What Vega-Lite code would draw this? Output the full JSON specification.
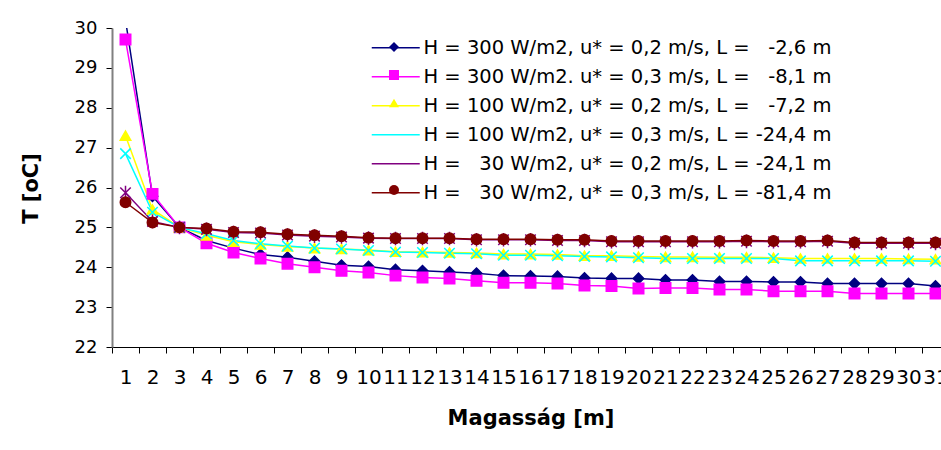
{
  "$schema": "https://vega.github.io/schema/vega-lite/v6.json",
  "autosize": "none",
  "width": 837,
  "height": 319,
  "padding": {"left": 112, "top": 28, "right": 0, "bottom": 103},
  "background": "white",
  "config": {
    "view": {"stroke": null},
    "font": "DejaVu Sans",
    "axis": {"grid": false, "labelColor": "black", "titleColor": "black", "titleFont": "DejaVu Sans", "labelFont": "DejaVu Sans"},
    "legend": {"labelFont": "DejaVu Sans", "labelColor": "black", "labelLimit": 700, "padding": 0}
  },
  "datasets": {
    "temps": [
      {"h":1,"s":"H = 300 W/m2, u* = 0,2 m/s, L =\u00a0\u00a0\u00a0-2,6 m","T":30.2},
      {"h":2,"s":"H = 300 W/m2, u* = 0,2 m/s, L =\u00a0\u00a0\u00a0-2,6 m","T":25.78},
      {"h":3,"s":"H = 300 W/m2, u* = 0,2 m/s, L =\u00a0\u00a0\u00a0-2,6 m","T":25.0},
      {"h":4,"s":"H = 300 W/m2, u* = 0,2 m/s, L =\u00a0\u00a0\u00a0-2,6 m","T":24.67},
      {"h":5,"s":"H = 300 W/m2, u* = 0,2 m/s, L =\u00a0\u00a0\u00a0-2,6 m","T":24.48},
      {"h":6,"s":"H = 300 W/m2, u* = 0,2 m/s, L =\u00a0\u00a0\u00a0-2,6 m","T":24.32},
      {"h":7,"s":"H = 300 W/m2, u* = 0,2 m/s, L =\u00a0\u00a0\u00a0-2,6 m","T":24.25},
      {"h":8,"s":"H = 300 W/m2, u* = 0,2 m/s, L =\u00a0\u00a0\u00a0-2,6 m","T":24.15},
      {"h":9,"s":"H = 300 W/m2, u* = 0,2 m/s, L =\u00a0\u00a0\u00a0-2,6 m","T":24.05},
      {"h":10,"s":"H = 300 W/m2, u* = 0,2 m/s, L =\u00a0\u00a0\u00a0-2,6 m","T":24.02},
      {"h":11,"s":"H = 300 W/m2, u* = 0,2 m/s, L =\u00a0\u00a0\u00a0-2,6 m","T":23.94},
      {"h":12,"s":"H = 300 W/m2, u* = 0,2 m/s, L =\u00a0\u00a0\u00a0-2,6 m","T":23.91},
      {"h":13,"s":"H = 300 W/m2, u* = 0,2 m/s, L =\u00a0\u00a0\u00a0-2,6 m","T":23.88},
      {"h":14,"s":"H = 300 W/m2, u* = 0,2 m/s, L =\u00a0\u00a0\u00a0-2,6 m","T":23.85},
      {"h":15,"s":"H = 300 W/m2, u* = 0,2 m/s, L =\u00a0\u00a0\u00a0-2,6 m","T":23.79},
      {"h":16,"s":"H = 300 W/m2, u* = 0,2 m/s, L =\u00a0\u00a0\u00a0-2,6 m","T":23.78},
      {"h":17,"s":"H = 300 W/m2, u* = 0,2 m/s, L =\u00a0\u00a0\u00a0-2,6 m","T":23.77},
      {"h":18,"s":"H = 300 W/m2, u* = 0,2 m/s, L =\u00a0\u00a0\u00a0-2,6 m","T":23.73},
      {"h":19,"s":"H = 300 W/m2, u* = 0,2 m/s, L =\u00a0\u00a0\u00a0-2,6 m","T":23.72},
      {"h":20,"s":"H = 300 W/m2, u* = 0,2 m/s, L =\u00a0\u00a0\u00a0-2,6 m","T":23.72},
      {"h":21,"s":"H = 300 W/m2, u* = 0,2 m/s, L =\u00a0\u00a0\u00a0-2,6 m","T":23.68},
      {"h":22,"s":"H = 300 W/m2, u* = 0,2 m/s, L =\u00a0\u00a0\u00a0-2,6 m","T":23.68},
      {"h":23,"s":"H = 300 W/m2, u* = 0,2 m/s, L =\u00a0\u00a0\u00a0-2,6 m","T":23.64},
      {"h":24,"s":"H = 300 W/m2, u* = 0,2 m/s, L =\u00a0\u00a0\u00a0-2,6 m","T":23.64},
      {"h":25,"s":"H = 300 W/m2, u* = 0,2 m/s, L =\u00a0\u00a0\u00a0-2,6 m","T":23.63},
      {"h":26,"s":"H = 300 W/m2, u* = 0,2 m/s, L =\u00a0\u00a0\u00a0-2,6 m","T":23.63},
      {"h":27,"s":"H = 300 W/m2, u* = 0,2 m/s, L =\u00a0\u00a0\u00a0-2,6 m","T":23.59},
      {"h":28,"s":"H = 300 W/m2, u* = 0,2 m/s, L =\u00a0\u00a0\u00a0-2,6 m","T":23.59},
      {"h":29,"s":"H = 300 W/m2, u* = 0,2 m/s, L =\u00a0\u00a0\u00a0-2,6 m","T":23.59},
      {"h":30,"s":"H = 300 W/m2, u* = 0,2 m/s, L =\u00a0\u00a0\u00a0-2,6 m","T":23.59},
      {"h":31,"s":"H = 300 W/m2, u* = 0,2 m/s, L =\u00a0\u00a0\u00a0-2,6 m","T":23.53},
      {"h":1,"s":"H = 300 W/m2. u* = 0,3 m/s, L =\u00a0\u00a0\u00a0-8,1 m","T":29.71},
      {"h":2,"s":"H = 300 W/m2. u* = 0,3 m/s, L =\u00a0\u00a0\u00a0-8,1 m","T":25.84},
      {"h":3,"s":"H = 300 W/m2. u* = 0,3 m/s, L =\u00a0\u00a0\u00a0-8,1 m","T":25.0},
      {"h":4,"s":"H = 300 W/m2. u* = 0,3 m/s, L =\u00a0\u00a0\u00a0-8,1 m","T":24.6},
      {"h":5,"s":"H = 300 W/m2. u* = 0,3 m/s, L =\u00a0\u00a0\u00a0-8,1 m","T":24.37},
      {"h":6,"s":"H = 300 W/m2. u* = 0,3 m/s, L =\u00a0\u00a0\u00a0-8,1 m","T":24.22},
      {"h":7,"s":"H = 300 W/m2. u* = 0,3 m/s, L =\u00a0\u00a0\u00a0-8,1 m","T":24.09},
      {"h":8,"s":"H = 300 W/m2. u* = 0,3 m/s, L =\u00a0\u00a0\u00a0-8,1 m","T":24.0},
      {"h":9,"s":"H = 300 W/m2. u* = 0,3 m/s, L =\u00a0\u00a0\u00a0-8,1 m","T":23.91},
      {"h":10,"s":"H = 300 W/m2. u* = 0,3 m/s, L =\u00a0\u00a0\u00a0-8,1 m","T":23.87},
      {"h":11,"s":"H = 300 W/m2. u* = 0,3 m/s, L =\u00a0\u00a0\u00a0-8,1 m","T":23.79},
      {"h":12,"s":"H = 300 W/m2. u* = 0,3 m/s, L =\u00a0\u00a0\u00a0-8,1 m","T":23.74},
      {"h":13,"s":"H = 300 W/m2. u* = 0,3 m/s, L =\u00a0\u00a0\u00a0-8,1 m","T":23.72},
      {"h":14,"s":"H = 300 W/m2. u* = 0,3 m/s, L =\u00a0\u00a0\u00a0-8,1 m","T":23.66},
      {"h":15,"s":"H = 300 W/m2. u* = 0,3 m/s, L =\u00a0\u00a0\u00a0-8,1 m","T":23.61},
      {"h":16,"s":"H = 300 W/m2. u* = 0,3 m/s, L =\u00a0\u00a0\u00a0-8,1 m","T":23.61},
      {"h":17,"s":"H = 300 W/m2. u* = 0,3 m/s, L =\u00a0\u00a0\u00a0-8,1 m","T":23.59},
      {"h":18,"s":"H = 300 W/m2. u* = 0,3 m/s, L =\u00a0\u00a0\u00a0-8,1 m","T":23.54},
      {"h":19,"s":"H = 300 W/m2. u* = 0,3 m/s, L =\u00a0\u00a0\u00a0-8,1 m","T":23.53},
      {"h":20,"s":"H = 300 W/m2. u* = 0,3 m/s, L =\u00a0\u00a0\u00a0-8,1 m","T":23.47},
      {"h":21,"s":"H = 300 W/m2. u* = 0,3 m/s, L =\u00a0\u00a0\u00a0-8,1 m","T":23.48},
      {"h":22,"s":"H = 300 W/m2. u* = 0,3 m/s, L =\u00a0\u00a0\u00a0-8,1 m","T":23.48},
      {"h":23,"s":"H = 300 W/m2. u* = 0,3 m/s, L =\u00a0\u00a0\u00a0-8,1 m","T":23.44},
      {"h":24,"s":"H = 300 W/m2. u* = 0,3 m/s, L =\u00a0\u00a0\u00a0-8,1 m","T":23.44},
      {"h":25,"s":"H = 300 W/m2. u* = 0,3 m/s, L =\u00a0\u00a0\u00a0-8,1 m","T":23.4},
      {"h":26,"s":"H = 300 W/m2. u* = 0,3 m/s, L =\u00a0\u00a0\u00a0-8,1 m","T":23.4},
      {"h":27,"s":"H = 300 W/m2. u* = 0,3 m/s, L =\u00a0\u00a0\u00a0-8,1 m","T":23.4},
      {"h":28,"s":"H = 300 W/m2. u* = 0,3 m/s, L =\u00a0\u00a0\u00a0-8,1 m","T":23.34},
      {"h":29,"s":"H = 300 W/m2. u* = 0,3 m/s, L =\u00a0\u00a0\u00a0-8,1 m","T":23.34},
      {"h":30,"s":"H = 300 W/m2. u* = 0,3 m/s, L =\u00a0\u00a0\u00a0-8,1 m","T":23.34},
      {"h":31,"s":"H = 300 W/m2. u* = 0,3 m/s, L =\u00a0\u00a0\u00a0-8,1 m","T":23.34},
      {"h":1,"s":"H = 100 W/m2, u* = 0,2 m/s, L =\u00a0\u00a0\u00a0-7,2 m","T":27.3},
      {"h":2,"s":"H = 100 W/m2, u* = 0,2 m/s, L =\u00a0\u00a0\u00a0-7,2 m","T":25.45},
      {"h":3,"s":"H = 100 W/m2, u* = 0,2 m/s, L =\u00a0\u00a0\u00a0-7,2 m","T":25.0},
      {"h":4,"s":"H = 100 W/m2, u* = 0,2 m/s, L =\u00a0\u00a0\u00a0-7,2 m","T":24.8},
      {"h":5,"s":"H = 100 W/m2, u* = 0,2 m/s, L =\u00a0\u00a0\u00a0-7,2 m","T":24.64},
      {"h":6,"s":"H = 100 W/m2, u* = 0,2 m/s, L =\u00a0\u00a0\u00a0-7,2 m","T":24.57},
      {"h":7,"s":"H = 100 W/m2, u* = 0,2 m/s, L =\u00a0\u00a0\u00a0-7,2 m","T":24.52},
      {"h":8,"s":"H = 100 W/m2, u* = 0,2 m/s, L =\u00a0\u00a0\u00a0-7,2 m","T":24.48},
      {"h":9,"s":"H = 100 W/m2, u* = 0,2 m/s, L =\u00a0\u00a0\u00a0-7,2 m","T":24.46},
      {"h":10,"s":"H = 100 W/m2, u* = 0,2 m/s, L =\u00a0\u00a0\u00a0-7,2 m","T":24.43},
      {"h":11,"s":"H = 100 W/m2, u* = 0,2 m/s, L =\u00a0\u00a0\u00a0-7,2 m","T":24.39},
      {"h":12,"s":"H = 100 W/m2, u* = 0,2 m/s, L =\u00a0\u00a0\u00a0-7,2 m","T":24.38},
      {"h":13,"s":"H = 100 W/m2, u* = 0,2 m/s, L =\u00a0\u00a0\u00a0-7,2 m","T":24.37},
      {"h":14,"s":"H = 100 W/m2, u* = 0,2 m/s, L =\u00a0\u00a0\u00a0-7,2 m","T":24.36},
      {"h":15,"s":"H = 100 W/m2, u* = 0,2 m/s, L =\u00a0\u00a0\u00a0-7,2 m","T":24.33},
      {"h":16,"s":"H = 100 W/m2, u* = 0,2 m/s, L =\u00a0\u00a0\u00a0-7,2 m","T":24.33},
      {"h":17,"s":"H = 100 W/m2, u* = 0,2 m/s, L =\u00a0\u00a0\u00a0-7,2 m","T":24.32},
      {"h":18,"s":"H = 100 W/m2, u* = 0,2 m/s, L =\u00a0\u00a0\u00a0-7,2 m","T":24.29},
      {"h":19,"s":"H = 100 W/m2, u* = 0,2 m/s, L =\u00a0\u00a0\u00a0-7,2 m","T":24.29},
      {"h":20,"s":"H = 100 W/m2, u* = 0,2 m/s, L =\u00a0\u00a0\u00a0-7,2 m","T":24.27},
      {"h":21,"s":"H = 100 W/m2, u* = 0,2 m/s, L =\u00a0\u00a0\u00a0-7,2 m","T":24.26},
      {"h":22,"s":"H = 100 W/m2, u* = 0,2 m/s, L =\u00a0\u00a0\u00a0-7,2 m","T":24.26},
      {"h":23,"s":"H = 100 W/m2, u* = 0,2 m/s, L =\u00a0\u00a0\u00a0-7,2 m","T":24.25},
      {"h":24,"s":"H = 100 W/m2, u* = 0,2 m/s, L =\u00a0\u00a0\u00a0-7,2 m","T":24.25},
      {"h":25,"s":"H = 100 W/m2, u* = 0,2 m/s, L =\u00a0\u00a0\u00a0-7,2 m","T":24.24},
      {"h":26,"s":"H = 100 W/m2, u* = 0,2 m/s, L =\u00a0\u00a0\u00a0-7,2 m","T":24.22},
      {"h":27,"s":"H = 100 W/m2, u* = 0,2 m/s, L =\u00a0\u00a0\u00a0-7,2 m","T":24.22},
      {"h":28,"s":"H = 100 W/m2, u* = 0,2 m/s, L =\u00a0\u00a0\u00a0-7,2 m","T":24.22},
      {"h":29,"s":"H = 100 W/m2, u* = 0,2 m/s, L =\u00a0\u00a0\u00a0-7,2 m","T":24.22},
      {"h":30,"s":"H = 100 W/m2, u* = 0,2 m/s, L =\u00a0\u00a0\u00a0-7,2 m","T":24.21},
      {"h":31,"s":"H = 100 W/m2, u* = 0,2 m/s, L =\u00a0\u00a0\u00a0-7,2 m","T":24.2},
      {"h":1,"s":"H = 100 W/m2, u* = 0,3 m/s, L = -24,4 m","T":26.85},
      {"h":2,"s":"H = 100 W/m2, u* = 0,3 m/s, L = -24,4 m","T":25.38},
      {"h":3,"s":"H = 100 W/m2, u* = 0,3 m/s, L = -24,4 m","T":25.0},
      {"h":4,"s":"H = 100 W/m2, u* = 0,3 m/s, L = -24,4 m","T":24.84},
      {"h":5,"s":"H = 100 W/m2, u* = 0,3 m/s, L = -24,4 m","T":24.67},
      {"h":6,"s":"H = 100 W/m2, u* = 0,3 m/s, L = -24,4 m","T":24.59},
      {"h":7,"s":"H = 100 W/m2, u* = 0,3 m/s, L = -24,4 m","T":24.53},
      {"h":8,"s":"H = 100 W/m2, u* = 0,3 m/s, L = -24,4 m","T":24.48},
      {"h":9,"s":"H = 100 W/m2, u* = 0,3 m/s, L = -24,4 m","T":24.46},
      {"h":10,"s":"H = 100 W/m2, u* = 0,3 m/s, L = -24,4 m","T":24.42},
      {"h":11,"s":"H = 100 W/m2, u* = 0,3 m/s, L = -24,4 m","T":24.38},
      {"h":12,"s":"H = 100 W/m2, u* = 0,3 m/s, L = -24,4 m","T":24.37},
      {"h":13,"s":"H = 100 W/m2, u* = 0,3 m/s, L = -24,4 m","T":24.35},
      {"h":14,"s":"H = 100 W/m2, u* = 0,3 m/s, L = -24,4 m","T":24.34},
      {"h":15,"s":"H = 100 W/m2, u* = 0,3 m/s, L = -24,4 m","T":24.3},
      {"h":16,"s":"H = 100 W/m2, u* = 0,3 m/s, L = -24,4 m","T":24.3},
      {"h":17,"s":"H = 100 W/m2, u* = 0,3 m/s, L = -24,4 m","T":24.29},
      {"h":18,"s":"H = 100 W/m2, u* = 0,3 m/s, L = -24,4 m","T":24.27},
      {"h":19,"s":"H = 100 W/m2, u* = 0,3 m/s, L = -24,4 m","T":24.26},
      {"h":20,"s":"H = 100 W/m2, u* = 0,3 m/s, L = -24,4 m","T":24.24},
      {"h":21,"s":"H = 100 W/m2, u* = 0,3 m/s, L = -24,4 m","T":24.22},
      {"h":22,"s":"H = 100 W/m2, u* = 0,3 m/s, L = -24,4 m","T":24.22},
      {"h":23,"s":"H = 100 W/m2, u* = 0,3 m/s, L = -24,4 m","T":24.22},
      {"h":24,"s":"H = 100 W/m2, u* = 0,3 m/s, L = -24,4 m","T":24.22},
      {"h":25,"s":"H = 100 W/m2, u* = 0,3 m/s, L = -24,4 m","T":24.22},
      {"h":26,"s":"H = 100 W/m2, u* = 0,3 m/s, L = -24,4 m","T":24.16},
      {"h":27,"s":"H = 100 W/m2, u* = 0,3 m/s, L = -24,4 m","T":24.16},
      {"h":28,"s":"H = 100 W/m2, u* = 0,3 m/s, L = -24,4 m","T":24.16},
      {"h":29,"s":"H = 100 W/m2, u* = 0,3 m/s, L = -24,4 m","T":24.16},
      {"h":30,"s":"H = 100 W/m2, u* = 0,3 m/s, L = -24,4 m","T":24.16},
      {"h":31,"s":"H = 100 W/m2, u* = 0,3 m/s, L = -24,4 m","T":24.15},
      {"h":1,"s":"H =\u00a0\u00a0\u00a030 W/m2, u* = 0,2 m/s, L = -24,1 m","T":25.87},
      {"h":2,"s":"H =\u00a0\u00a0\u00a030 W/m2, u* = 0,2 m/s, L = -24,1 m","T":25.15},
      {"h":3,"s":"H =\u00a0\u00a0\u00a030 W/m2, u* = 0,2 m/s, L = -24,1 m","T":25.0},
      {"h":4,"s":"H =\u00a0\u00a0\u00a030 W/m2, u* = 0,2 m/s, L = -24,1 m","T":24.95},
      {"h":5,"s":"H =\u00a0\u00a0\u00a030 W/m2, u* = 0,2 m/s, L = -24,1 m","T":24.87},
      {"h":6,"s":"H =\u00a0\u00a0\u00a030 W/m2, u* = 0,2 m/s, L = -24,1 m","T":24.86},
      {"h":7,"s":"H =\u00a0\u00a0\u00a030 W/m2, u* = 0,2 m/s, L = -24,1 m","T":24.81},
      {"h":8,"s":"H =\u00a0\u00a0\u00a030 W/m2, u* = 0,2 m/s, L = -24,1 m","T":24.78},
      {"h":9,"s":"H =\u00a0\u00a0\u00a030 W/m2, u* = 0,2 m/s, L = -24,1 m","T":24.76},
      {"h":10,"s":"H =\u00a0\u00a0\u00a030 W/m2, u* = 0,2 m/s, L = -24,1 m","T":24.73},
      {"h":11,"s":"H =\u00a0\u00a0\u00a030 W/m2, u* = 0,2 m/s, L = -24,1 m","T":24.72},
      {"h":12,"s":"H =\u00a0\u00a0\u00a030 W/m2, u* = 0,2 m/s, L = -24,1 m","T":24.72},
      {"h":13,"s":"H =\u00a0\u00a0\u00a030 W/m2, u* = 0,2 m/s, L = -24,1 m","T":24.72},
      {"h":14,"s":"H =\u00a0\u00a0\u00a030 W/m2, u* = 0,2 m/s, L = -24,1 m","T":24.69},
      {"h":15,"s":"H =\u00a0\u00a0\u00a030 W/m2, u* = 0,2 m/s, L = -24,1 m","T":24.69},
      {"h":16,"s":"H =\u00a0\u00a0\u00a030 W/m2, u* = 0,2 m/s, L = -24,1 m","T":24.69},
      {"h":17,"s":"H =\u00a0\u00a0\u00a030 W/m2, u* = 0,2 m/s, L = -24,1 m","T":24.67},
      {"h":18,"s":"H =\u00a0\u00a0\u00a030 W/m2, u* = 0,2 m/s, L = -24,1 m","T":24.67},
      {"h":19,"s":"H =\u00a0\u00a0\u00a030 W/m2, u* = 0,2 m/s, L = -24,1 m","T":24.64},
      {"h":20,"s":"H =\u00a0\u00a0\u00a030 W/m2, u* = 0,2 m/s, L = -24,1 m","T":24.64},
      {"h":21,"s":"H =\u00a0\u00a0\u00a030 W/m2, u* = 0,2 m/s, L = -24,1 m","T":24.64},
      {"h":22,"s":"H =\u00a0\u00a0\u00a030 W/m2, u* = 0,2 m/s, L = -24,1 m","T":24.64},
      {"h":23,"s":"H =\u00a0\u00a0\u00a030 W/m2, u* = 0,2 m/s, L = -24,1 m","T":24.64},
      {"h":24,"s":"H =\u00a0\u00a0\u00a030 W/m2, u* = 0,2 m/s, L = -24,1 m","T":24.65},
      {"h":25,"s":"H =\u00a0\u00a0\u00a030 W/m2, u* = 0,2 m/s, L = -24,1 m","T":24.64},
      {"h":26,"s":"H =\u00a0\u00a0\u00a030 W/m2, u* = 0,2 m/s, L = -24,1 m","T":24.64},
      {"h":27,"s":"H =\u00a0\u00a0\u00a030 W/m2, u* = 0,2 m/s, L = -24,1 m","T":24.65},
      {"h":28,"s":"H =\u00a0\u00a0\u00a030 W/m2, u* = 0,2 m/s, L = -24,1 m","T":24.6},
      {"h":29,"s":"H =\u00a0\u00a0\u00a030 W/m2, u* = 0,2 m/s, L = -24,1 m","T":24.6},
      {"h":30,"s":"H =\u00a0\u00a0\u00a030 W/m2, u* = 0,2 m/s, L = -24,1 m","T":24.6},
      {"h":31,"s":"H =\u00a0\u00a0\u00a030 W/m2, u* = 0,2 m/s, L = -24,1 m","T":24.6},
      {"h":1,"s":"H =\u00a0\u00a0\u00a030 W/m2, u* = 0,3 m/s, L = -81,4 m","T":25.63},
      {"h":2,"s":"H =\u00a0\u00a0\u00a030 W/m2, u* = 0,3 m/s, L = -81,4 m","T":25.12},
      {"h":3,"s":"H =\u00a0\u00a0\u00a030 W/m2, u* = 0,3 m/s, L = -81,4 m","T":25.0},
      {"h":4,"s":"H =\u00a0\u00a0\u00a030 W/m2, u* = 0,3 m/s, L = -81,4 m","T":24.97},
      {"h":5,"s":"H =\u00a0\u00a0\u00a030 W/m2, u* = 0,3 m/s, L = -81,4 m","T":24.89},
      {"h":6,"s":"H =\u00a0\u00a0\u00a030 W/m2, u* = 0,3 m/s, L = -81,4 m","T":24.88},
      {"h":7,"s":"H =\u00a0\u00a0\u00a030 W/m2, u* = 0,3 m/s, L = -81,4 m","T":24.83},
      {"h":8,"s":"H =\u00a0\u00a0\u00a030 W/m2, u* = 0,3 m/s, L = -81,4 m","T":24.8},
      {"h":9,"s":"H =\u00a0\u00a0\u00a030 W/m2, u* = 0,3 m/s, L = -81,4 m","T":24.78},
      {"h":10,"s":"H =\u00a0\u00a0\u00a030 W/m2, u* = 0,3 m/s, L = -81,4 m","T":24.74},
      {"h":11,"s":"H =\u00a0\u00a0\u00a030 W/m2, u* = 0,3 m/s, L = -81,4 m","T":24.73},
      {"h":12,"s":"H =\u00a0\u00a0\u00a030 W/m2, u* = 0,3 m/s, L = -81,4 m","T":24.73},
      {"h":13,"s":"H =\u00a0\u00a0\u00a030 W/m2, u* = 0,3 m/s, L = -81,4 m","T":24.73},
      {"h":14,"s":"H =\u00a0\u00a0\u00a030 W/m2, u* = 0,3 m/s, L = -81,4 m","T":24.7},
      {"h":15,"s":"H =\u00a0\u00a0\u00a030 W/m2, u* = 0,3 m/s, L = -81,4 m","T":24.7},
      {"h":16,"s":"H =\u00a0\u00a0\u00a030 W/m2, u* = 0,3 m/s, L = -81,4 m","T":24.7},
      {"h":17,"s":"H =\u00a0\u00a0\u00a030 W/m2, u* = 0,3 m/s, L = -81,4 m","T":24.69},
      {"h":18,"s":"H =\u00a0\u00a0\u00a030 W/m2, u* = 0,3 m/s, L = -81,4 m","T":24.69},
      {"h":19,"s":"H =\u00a0\u00a0\u00a030 W/m2, u* = 0,3 m/s, L = -81,4 m","T":24.66},
      {"h":20,"s":"H =\u00a0\u00a0\u00a030 W/m2, u* = 0,3 m/s, L = -81,4 m","T":24.66},
      {"h":21,"s":"H =\u00a0\u00a0\u00a030 W/m2, u* = 0,3 m/s, L = -81,4 m","T":24.66},
      {"h":22,"s":"H =\u00a0\u00a0\u00a030 W/m2, u* = 0,3 m/s, L = -81,4 m","T":24.66},
      {"h":23,"s":"H =\u00a0\u00a0\u00a030 W/m2, u* = 0,3 m/s, L = -81,4 m","T":24.66},
      {"h":24,"s":"H =\u00a0\u00a0\u00a030 W/m2, u* = 0,3 m/s, L = -81,4 m","T":24.67},
      {"h":25,"s":"H =\u00a0\u00a0\u00a030 W/m2, u* = 0,3 m/s, L = -81,4 m","T":24.66},
      {"h":26,"s":"H =\u00a0\u00a0\u00a030 W/m2, u* = 0,3 m/s, L = -81,4 m","T":24.66},
      {"h":27,"s":"H =\u00a0\u00a0\u00a030 W/m2, u* = 0,3 m/s, L = -81,4 m","T":24.67},
      {"h":28,"s":"H =\u00a0\u00a0\u00a030 W/m2, u* = 0,3 m/s, L = -81,4 m","T":24.62},
      {"h":29,"s":"H =\u00a0\u00a0\u00a030 W/m2, u* = 0,3 m/s, L = -81,4 m","T":24.62},
      {"h":30,"s":"H =\u00a0\u00a0\u00a030 W/m2, u* = 0,3 m/s, L = -81,4 m","T":24.62},
      {"h":31,"s":"H =\u00a0\u00a0\u00a030 W/m2, u* = 0,3 m/s, L = -81,4 m","T":24.62}
    ]
  },
  "data": {"name": "temps"},
  "encoding": {
    "x": {
      "field": "h", "type": "ordinal",
      "scale": {"type": "band", "paddingInner": 0, "paddingOuter": 0},
      "axis": {
        "title": "Magasság [m]", "titleFontSize": 21, "titleFontWeight": "bold",
        "titleBaseline": "middle", "titleY": 71,
        "labelAngle": 0, "labelFontSize": 20, "labelPadding": 24, "labelBaseline": "middle",
        "labelOverlap": false, "labelFlush": false, "labelBound": false,
        "tickBand": "extent", "tickSize": 6, "tickColor": "black",
        "domainColor": "black", "domainWidth": 1
      }
    },
    "y": {
      "field": "T", "type": "quantitative",
      "scale": {"domain": [22, 30], "zero": false, "nice": false},
      "axis": {
        "title": "T [oC]", "titleFontSize": 21, "titleFontWeight": "bold",
        "titleX": -81, "titleY": 160, "titleAngle": -90, "titleAlign": "center", "titleBaseline": "middle",
        "values": [22, 23, 24, 25, 26, 27, 28, 29, 30],
        "labelFontSize": 18, "labelPadding": 9, "tickSize": 6, "tickColor": "black",
        "domainColor": "#808080", "domainWidth": 2
      }
    },
    "stroke": {
      "field": "s", "type": "nominal",
      "scale": {
        "domain": [
          "H = 300 W/m2, u* = 0,2 m/s, L =\u00a0\u00a0\u00a0-2,6 m",
          "H = 300 W/m2. u* = 0,3 m/s, L =\u00a0\u00a0\u00a0-8,1 m",
          "H = 100 W/m2, u* = 0,2 m/s, L =\u00a0\u00a0\u00a0-7,2 m",
          "H = 100 W/m2, u* = 0,3 m/s, L = -24,4 m",
          "H =\u00a0\u00a0\u00a030 W/m2, u* = 0,2 m/s, L = -24,1 m",
          "H =\u00a0\u00a0\u00a030 W/m2, u* = 0,3 m/s, L = -81,4 m",
          "\u200b"
        ],
        "range": ["#000080", "#ff00ff", "#ffff00", "#00ffff", "#800080", "#800000", "#000000"]
      },
      "legend": {
        "orient": "none", "legendX": 274, "legendY": 10, "title": null,
        "values": [
          "H = 300 W/m2, u* = 0,2 m/s, L =\u00a0\u00a0\u00a0-2,6 m",
          "H = 300 W/m2. u* = 0,3 m/s, L =\u00a0\u00a0\u00a0-8,1 m",
          "H = 100 W/m2, u* = 0,2 m/s, L =\u00a0\u00a0\u00a0-7,2 m",
          "H = 100 W/m2, u* = 0,3 m/s, L = -24,4 m",
          "H =\u00a0\u00a0\u00a030 W/m2, u* = 0,2 m/s, L = -24,1 m",
          "H =\u00a0\u00a0\u00a030 W/m2, u* = 0,3 m/s, L = -81,4 m"
        ],
        "symbolType": "M-4.8,0H4.8", "symbolSize": 100, "symbolStrokeWidth": 1.5,
        "labelFontSize": 19.5, "labelOffset": 18, "rowPadding": 8
      }
    }
  },
  "layer": [
    {
      "mark": {"type": "line", "strokeWidth": 1.5, "clip": true}
    },
    {
      "mark": {"type": "point", "filled": true, "size": 110, "strokeWidth": 1.5, "opacity": 1, "clip": true},
      "encoding": {
        "color": {
          "field": "s", "type": "nominal",
          "scale": {
            "domain": [
              "H = 300 W/m2, u* = 0,2 m/s, L =\u00a0\u00a0\u00a0-2,6 m",
              "H = 300 W/m2. u* = 0,3 m/s, L =\u00a0\u00a0\u00a0-8,1 m",
              "H = 100 W/m2, u* = 0,2 m/s, L =\u00a0\u00a0\u00a0-7,2 m",
              "H = 100 W/m2, u* = 0,3 m/s, L = -24,4 m",
              "H =\u00a0\u00a0\u00a030 W/m2, u* = 0,2 m/s, L = -24,1 m",
              "H =\u00a0\u00a0\u00a030 W/m2, u* = 0,3 m/s, L = -81,4 m"
            ],
            "range": ["#000080", "#ff00ff", "#ffff00", "#00ffff", "#800080", "#800000"]
          },
          "legend": {
            "orient": "none", "legendX": 276, "legendY": 13, "title": null,
            "symbolSize": 100, "symbolStrokeWidth": 1.5,
            "labelExpr": "''", "labelFontSize": 1, "labelOpacity": 0, "rowPadding": 17
          }
        },
        "shape": {
          "field": "s", "type": "nominal",
          "scale": {
            "domain": [
              "H = 300 W/m2, u* = 0,2 m/s, L =\u00a0\u00a0\u00a0-2,6 m",
              "H = 300 W/m2. u* = 0,3 m/s, L =\u00a0\u00a0\u00a0-8,1 m",
              "H = 100 W/m2, u* = 0,2 m/s, L =\u00a0\u00a0\u00a0-7,2 m",
              "H = 100 W/m2, u* = 0,3 m/s, L = -24,4 m",
              "H =\u00a0\u00a0\u00a030 W/m2, u* = 0,2 m/s, L = -24,1 m",
              "H =\u00a0\u00a0\u00a030 W/m2, u* = 0,3 m/s, L = -81,4 m"
            ],
            "range": ["diamond", "square", "triangle-up", "M-1,-1L1,1M-1,1L1,-1", "M-1,-1L1,1M-1,1L1,-1M0,-1.3V1.3", "circle"]
          },
          "legend": {
            "orient": "none", "legendX": 276, "legendY": 13, "title": null,
            "symbolSize": 100, "symbolStrokeWidth": 1.5,
            "labelExpr": "''", "labelFontSize": 1, "labelOpacity": 0, "rowPadding": 17
          }
        }
      }
    }
  ]
}
